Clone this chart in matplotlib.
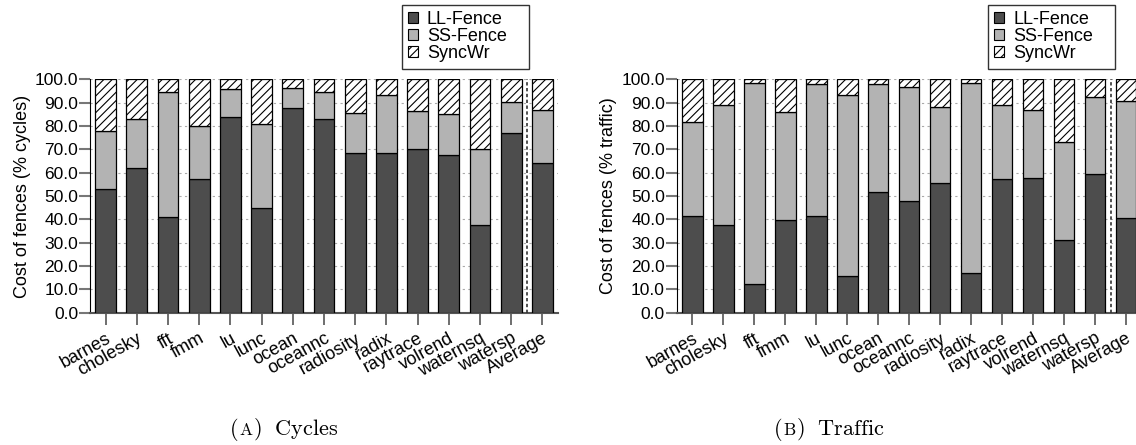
import matplotlib
matplotlib.use("Agg")
import matplotlib.pyplot as plt
import numpy as np
from matplotlib.patches import Patch

plt.rcParams['font.family'] = ['Liberation Sans', 'DejaVu Sans']
plt.rcParams['hatch.linewidth'] = 0.8
plt.rcParams['mathtext.fontset'] = 'cm'

benchmarks = ["barnes", "cholesky", "fft", "fmm", "lu", "lunc", "ocean", "oceannc",
              "radiosity", "radix", "raytrace", "volrend", "waternsq", "watersp", "Average"]
series = ["LL-Fence", "SS-Fence", "SyncWr"]

# Segment heights (LL, SS, SyncWr)
cycles_ll = [52.9, 61.9, 40.9, 57.4, 84.0, 44.9, 87.6, 82.9, 68.3, 68.3, 70.1, 67.4, 37.4, 77.1, 64.3]
cycles_ss = [24.8, 21.2, 53.5, 22.7, 12.0, 36.0, 8.8, 11.5, 17.4, 25.1, 16.2, 17.6, 32.9, 13.0, 22.4]
cycles_sw = [22.3, 16.9, 5.6, 19.9, 4.0, 19.1, 3.6, 5.6, 14.3, 6.6, 13.7, 15.0, 29.7, 9.9, 13.3]

traffic_ll = [41.6, 37.7, 12.3, 39.7, 41.4, 15.7, 51.9, 47.9, 55.7, 16.9, 57.1, 57.6, 31.1, 59.4, 40.4]
traffic_ss = [40.3, 51.4, 86.0, 46.2, 56.6, 77.4, 46.0, 48.8, 32.3, 81.4, 31.8, 29.3, 42.0, 32.9, 50.3]
traffic_sw = [18.1, 10.9, 1.7, 14.1, 2.0, 6.9, 2.1, 3.3, 12.0, 1.7, 11.1, 13.1, 26.9, 7.7, 9.3]

ylabels = ["Cost of fences (% cycles)", "Cost of fences (% traffic)"]
caption_letters = ["A", "B"]
caption_words = ["Cycles", "Traffic"]

W, H = 1136, 445
fig = plt.figure(figsize=(W / 100, H / 100), dpi=100)

def px_axes(x0, x1, ytop, ybot):
    return fig.add_axes([x0 / W, 1 - ybot / H, (x1 - x0) / W, (ybot - ytop) / H])

ax1 = px_axes(90, 558, 79.3, 312.7)
ax2 = px_axes(676.7, 1141.5, 79.3, 312.7)

colors = ["#4d4d4d", "#b3b3b3", "white"]
hatches = [None, None, "////"]

for ax, data, ylab in [(ax1, (cycles_ll, cycles_ss, cycles_sw), ylabels[0]),
                       (ax2, (traffic_ll, traffic_ss, traffic_sw), ylabels[1])]:
    x = np.arange(len(benchmarks))
    bottom = np.zeros(len(benchmarks))
    for vals, c, h in zip(data, colors, hatches):
        ax.bar(x, vals, bottom=bottom, width=0.67, color=c, edgecolor="black",
               linewidth=0.9, hatch=h, zorder=3)
        bottom += np.array(vals)
    ax.set_xlim(-0.5, len(benchmarks) - 0.5)
    ax.set_ylim(0, 100)
    ax.set_yticks(np.arange(0, 101, 10))
    ax.set_yticklabels([f"{v:.1f}" for v in np.arange(0, 101, 10)], fontsize=12.5)
    ax.yaxis.grid(True, linestyle=(0, (2, 3)), color="#aaaaaa", linewidth=0.8, zorder=0)
    ax.set_axisbelow(True)
    ax.axvline(len(benchmarks) - 1.5, color="#333333", linestyle=(0, (2, 1.5)), linewidth=1.2, zorder=4)
    ax.set_xticks(x)
    ax.set_xticklabels(benchmarks, rotation=29, ha="right", rotation_mode="anchor", fontsize=13)
    ax.tick_params(axis="x", length=8.5, width=1.2, color="#555555", pad=4)
    ax.tick_params(axis="y", length=8, width=1.5, color="#777777", pad=0.5)
    for s in ["top", "right"]:
        ax.spines[s].set_visible(False)
    ax.spines["left"].set_color("black")
    ax.spines["bottom"].set_color("#555555")
    ax.spines["bottom"].set_linewidth(1.5)
    ax.set_ylabel(ylab, fontsize=13, labelpad=3)

handles = [Patch(facecolor=c, edgecolor="black", hatch=h, linewidth=0.8, label=s)
           for c, h, s in zip(colors, hatches, series)]
for lx in [401.5, 988]:
    fig.legend(handles=handles, loc="upper left",
               bbox_to_anchor=(lx / W, 1 - 68 / H, 127 / W, 63 / H), mode="expand",
               fontsize=13, frameon=True, fancybox=False, edgecolor="black",
               handlelength=0.55, handleheight=0.55, handletextpad=0.5, labelspacing=0.0,
               borderpad=0.35, borderaxespad=0)

# Captions with small-caps letter, Computer Modern style
fig.canvas.draw()
renderer = fig.canvas.get_renderer()
for cx, letter, word in [(284, caption_letters[0], caption_words[0]),
                         (829, caption_letters[1], caption_words[1])]:
    pieces = [(r"$\mathrm{(}$", 16), (r"$\mathrm{%s}$" % letter, 12.5),
              (r"$\mathrm{)\ \ %s}$" % word, 16)]
    texts = []
    widths = []
    for s, fs in pieces:
        t = fig.text(0, 0, s, fontsize=fs, ha="left", va="baseline")
        bb = t.get_window_extent(renderer)
        widths.append(bb.width)
        texts.append(t)
    total = sum(widths)
    x0 = cx - total / 2
    ybase = H - 435
    for t, w in zip(texts, widths):
        t.set_position((x0 / W, ybase / H))
        x0 += w

fig.savefig("out.png", dpi=100)
